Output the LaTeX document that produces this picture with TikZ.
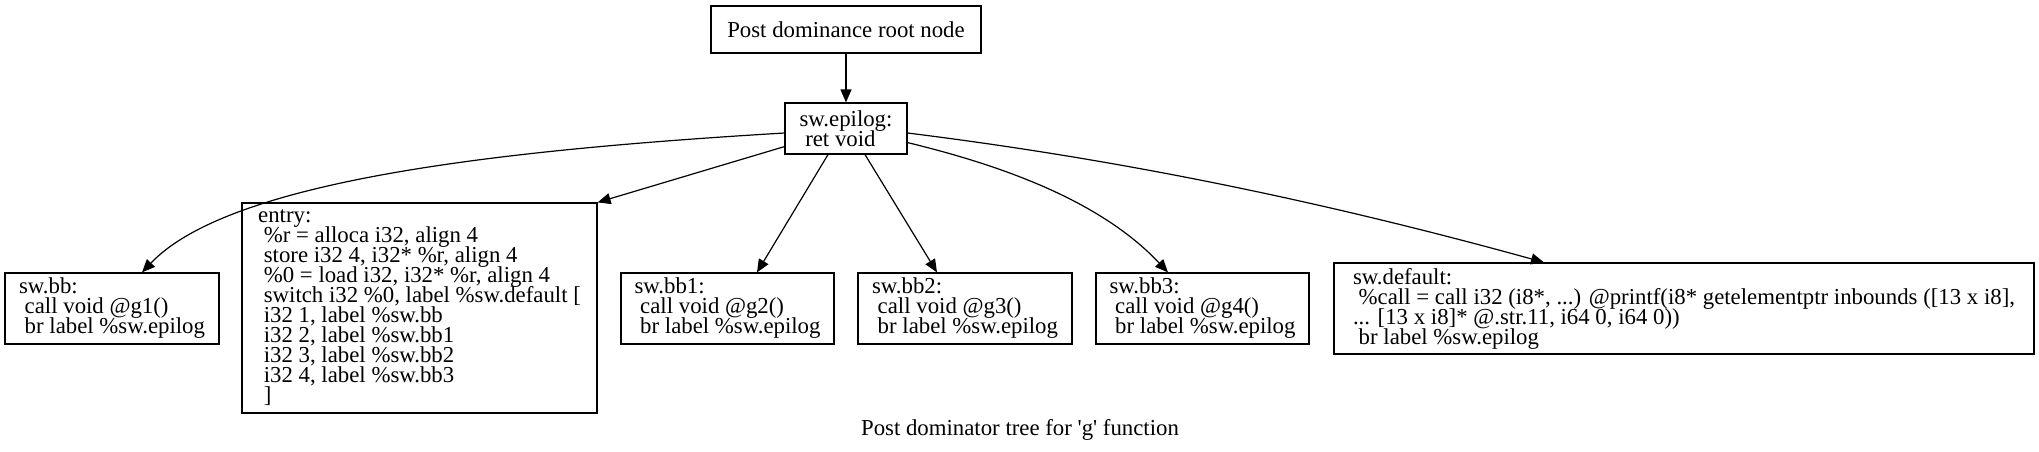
\documentclass[tikz,border=0pt]{standalone}
\usepackage{fontspec}
\setmainfont{Liberation Serif}
\usetikzlibrary{arrows.meta}
\lineskiplimit=-100pt

\tikzset{
  blk/.style={draw, line width=0.6pt, inner xsep=6pt, inner ysep=0pt,
    align=left, font=\fontsize{11.4}{10}\selectfont},
  edge/.style={line width=0.6pt, -{Triangle[length=6.5pt, width=5.5pt]}}
}

\begin{document}
\begin{tikzpicture}[x=0.5pt, y=-0.5pt]

\newcommand{\rowY}{308.5}  % 下排节点的中心 y
\newcommand{\rowH}{35.5pt} % 三行节点的高度

\useasboundingbox (0,0) rectangle (2039,451);

\node[blk, align=center, minimum width=135pt, minimum height=23.5pt] (root) at (846,29.5) {Post dominance root node};
\node[blk, minimum width=61pt, minimum height=25.5pt] (epilog) at (846,128.5) {sw.epilog:\\\ ret void};

\node[blk, minimum width=107pt, minimum height=\rowH] (bb) at (112,\rowY) {sw.bb:\\\ call void @g1()\\\ br label \%sw.epilog};
\node[blk, minimum width=177.5pt, minimum height=105pt] (entry) at (419.5,308) {entry:\\\ \%r = alloca i32, align 4\\\ store i32 4, i32* \%r, align 4\\\ \%0 = load i32, i32* \%r, align 4\\\ switch i32 \%0, label \%sw.default [\\\ i32 1, label \%sw.bb\\\ i32 2, label \%sw.bb1\\\ i32 3, label \%sw.bb2\\\ i32 4, label \%sw.bb3\\\ ]};
\node[blk, minimum width=106.5pt, minimum height=\rowH] (bb1) at (727.5,\rowY) {sw.bb1:\\\ call void @g2()\\\ br label \%sw.epilog};
\node[blk, minimum width=107pt, minimum height=\rowH] (bb2) at (965,\rowY) {sw.bb2:\\\ call void @g3()\\\ br label \%sw.epilog};
\node[blk, minimum width=106.5pt, minimum height=\rowH] (bb3) at (1202.5,\rowY) {sw.bb3:\\\ call void @g4()\\\ br label \%sw.epilog};
\node[blk, minimum width=350pt, minimum height=45.5pt] (default) at (1684,\rowY) {sw.default:\\\ \%call = call i32 (i8*, ...) @printf(i8* getelementptr inbounds ([13 x i8],\\... [13 x i8]* @.str.11, i64 0, i64 0))\\\ br label \%sw.epilog};

\node[font=\fontsize{11.4}{10}\selectfont] (caption) at (1020,430) {Post dominator tree for \textquotesingle{}g\textquotesingle{} function};

% 曲线的控制点
\coordinate (C1) at (500,150);
\coordinate (C2) at (230,180);
\coordinate (C3) at (1000,165);
\coordinate (C4) at (1100,200);
\coordinate (C5) at (1100,157);
\coordinate (C6) at (1300,195);

\draw[edge] (root) -- (epilog);
\draw[edge] ([yshift=-2.25pt]epilog.west) .. controls (C1) and (C2) .. ([xshift=15pt]bb.north);
\draw[edge] ([yshift=4pt]epilog.south west) -- (entry.north east);
\draw[edge] ([xshift=-9pt]epilog.south) -- ([xshift=14.75pt]bb1.north);
\draw[edge] ([xshift=9.5pt]epilog.south) -- ([xshift=-14pt]bb2.north);
\draw[edge] ([yshift=6pt]epilog.south east) .. controls (C3) and (C4) .. ([xshift=-17.25pt]bb3.north);
\draw[edge] ([yshift=-2.25pt]epilog.east) .. controls (C5) and (C6) .. ([xshift=-70pt]default.north);

\end{tikzpicture}
\end{document}
